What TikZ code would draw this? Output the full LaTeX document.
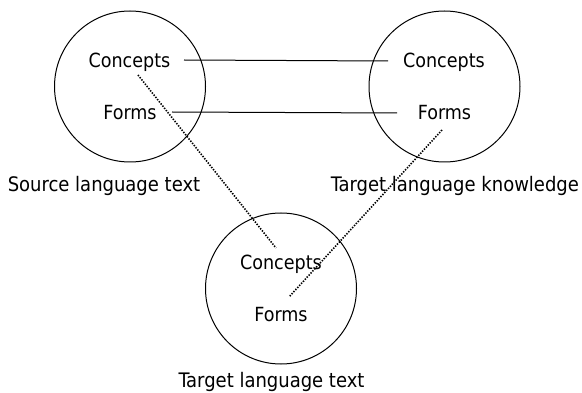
\documentclass[tikz,border=0pt]{standalone}
\usepackage{fontspec}
\setmainfont{DejaVu Sans Condensed}
\begin{document}
\begin{tikzpicture}[x=1pt,y=-1pt,
  ring/.style={draw,line width=1pt,circle,minimum size=151pt,inner sep=0pt},
  txt/.style={font=\fontsize{19.5}{22}\selectfont,inner sep=0pt,anchor=center},
  lbl/.style={font=\fontsize{20}{23}\selectfont,inner sep=0pt,anchor=center},
  solidlink/.style={line width=1pt},
  dotlink/.style={line width=1.6pt,dash pattern=on 1.4pt off 1.4pt}]
\useasboundingbox (0,0) rectangle (582,393);
\node[ring] (L) at (130,86.5) {};
\node[ring] (R) at (444.5,86.5) {};
\node[ring] (B) at (281,288.5) {};
\node[txt] (lc) at (129.5,62) {Concepts};
\node[txt] (lf) at (130,113) {Forms};
\node[txt] (rc) at (444,62) {Concepts};
\node[txt] (rf) at (444.5,113) {Forms};
\node[txt] (bc) at (281,264) {Concepts};
\node[txt] (bf) at (281,315) {Forms};
\node[lbl] (sl) at (104,186) {Source language text};
\node[lbl] (tk) at (455,186) {Target language knowledge};
\node[lbl] (tt) at (271.5,382) {Target language text};
\coordinate (a1) at (184,60);
\coordinate (a2) at (388,61);
\coordinate (b1) at (172,112);
\coordinate (b2) at (397,113);
\coordinate (c1) at (138,75);
\coordinate (c2) at (276,248);
\coordinate (d1) at (442,130);
\coordinate (d2) at (289,297);
\draw[solidlink] (a1) -- (a2);
\draw[solidlink] (b1) -- (b2);
\draw[dotlink] (c1) -- (c2);
\draw[dotlink] (d1) -- (d2);
\end{tikzpicture}
\end{document}
